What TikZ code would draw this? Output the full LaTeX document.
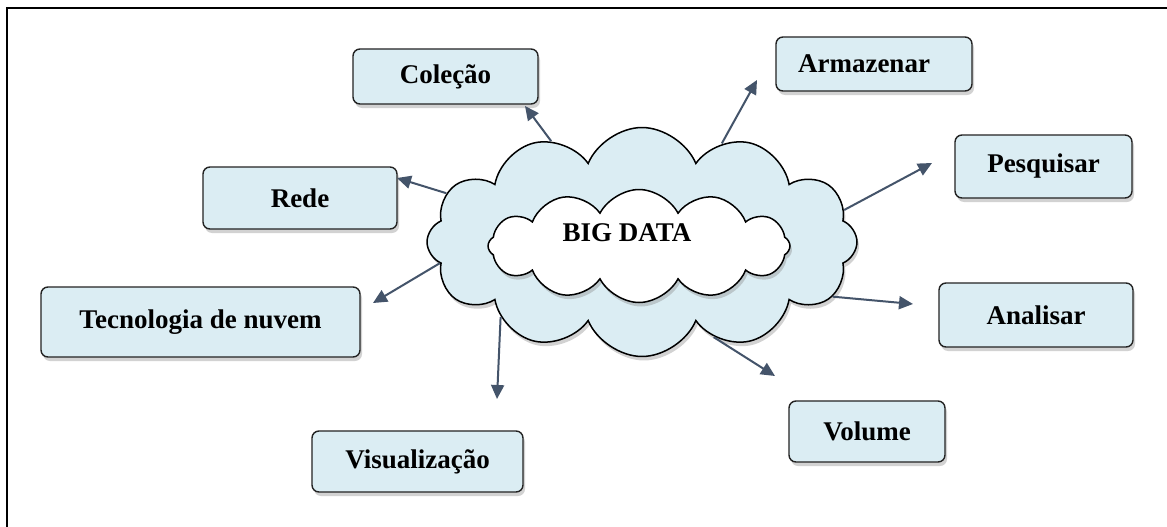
\documentclass[tikz,border=0pt]{standalone}
\usepackage{fontspec}
\setmainfont{Liberation Serif}
\usetikzlibrary{shapes.symbols,shadows,arrows.meta}
\definecolor{boxfill}{RGB}{219,237,243}
\definecolor{arrowc}{RGB}{68,84,106}
\definecolor{edgec}{RGB}{35,35,35}
\tikzset{
  boxnode/.style={draw=edgec, line width=1.4pt, fill=boxfill, rounded corners=7pt,
    font=\bfseries\fontsize{27}{31}\selectfont, inner sep=0pt,
    drop shadow={opacity=0.35, shadow xshift=2pt, shadow yshift=-4pt}},
  cloudnode/.style={cloud, draw=black, line width=1.5pt, cloud ignores aspect, inner sep=0pt,
    drop shadow={opacity=0.35, shadow xshift=2pt, shadow yshift=-4pt}},
  link/.style={draw=arrowc, line width=2pt, -{Triangle[length=14pt,width=13pt]}},
  textlabel/.style={font=\bfseries\fontsize{27}{31}\selectfont, inner sep=0pt}
}
\begin{document}
\begin{tikzpicture}[x=1pt,y=-1pt]
\useasboundingbox (0,0) rectangle (1167,527);
\fill[white] (0,0) rectangle (1167,527);
\draw[line width=2pt, black] (6.5,527) -- (6.5,8.5) -- (1167,8.5);

% clouds
\node[cloudnode, fill=boxfill, cloud puffs=12, cloud puff arc=135,
  minimum width=430pt, minimum height=229pt] (outer) at (642,242) {};
\node[cloudnode, fill=white, cloud puffs=12, cloud puff arc=125,
  minimum width=302pt, minimum height=113pt] (inner) at (639,246) {};
\node[textlabel] (bigdata) at (627,233) {BIG DATA};

% boxes
\node[boxnode, minimum width=185pt, minimum height=55pt] (colecao) at (445.5,76.5) {Coleção};
\node[boxnode, minimum width=196pt, minimum height=54pt] (armazenar) at (874,64) {\hspace*{-20pt}Armazenar};
\node[boxnode, minimum width=177pt, minimum height=63pt] (pesquisar) at (1043.5,166.5) {Pesquisar};
\node[boxnode, minimum width=194pt, minimum height=62pt] (rede) at (300,198) {Rede};
\node[boxnode, minimum width=319pt, minimum height=70pt] (tecnologia) at (200.5,322) {Tecnologia de nuvem};
\node[boxnode, minimum width=194pt, minimum height=64pt] (analisar) at (1036,315) {Analisar};
\node[boxnode, minimum width=156pt, minimum height=61pt] (volume) at (867,431.5) {Volume};
\node[boxnode, minimum width=211pt, minimum height=61pt] (visualizacao) at (417.5,461.5) {Visualização};

% arrow tips (free ends)
\coordinate (tCol) at (525,106);
\coordinate (tArm) at (757,80);
\coordinate (tPes) at (932,163);
\coordinate (tRed) at (397,178);
\coordinate (tTec) at (373,303);
\coordinate (tAna) at (913,304);
\coordinate (tVol) at (775,376);
\coordinate (tVis) at (497,399);

\draw[link] (outer.132) -- (tCol);
\draw[link] (outer.51) -- (tArm);
\draw[link] (outer.9) -- (tPes);
\draw[link] (outer.166) -- (tRed);
\draw[link] (outer.186) -- (tTec);
\draw[link] (outer.344) -- (tAna);
\draw[link] (outer.307) -- (tVol);
\draw[link] (outer.208) -- (tVis);
\end{tikzpicture}
\end{document}
